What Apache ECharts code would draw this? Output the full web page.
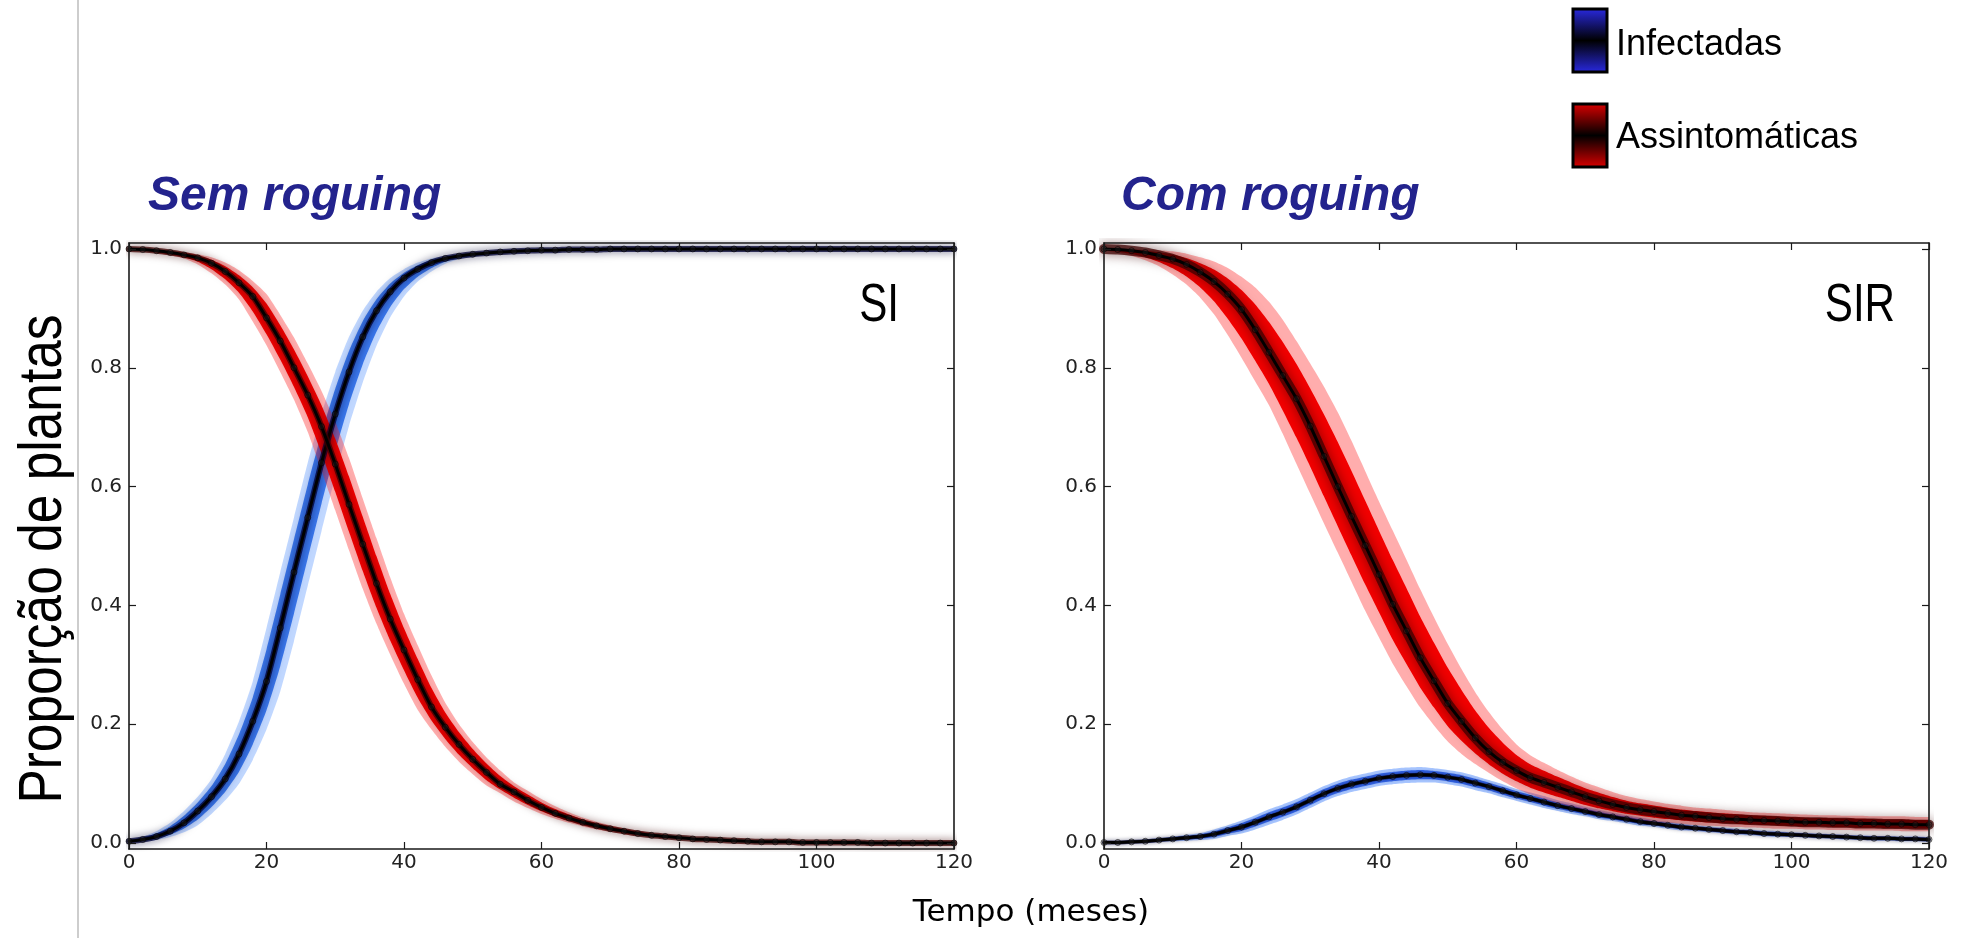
<!DOCTYPE html>
<html>
<head>
<meta charset="utf-8">
<script src="https://cdn.jsdelivr.net/npm/echarts@6/dist/echarts.min.js"></script>
<style>
  html, body { margin: 0; padding: 0; background: #fff; }
  #chart { width: 1970px; height: 938px; }
</style>
</head>
<body>
<div id="chart"></div>
<script>
// tempo (meses), um ponto a cada 2 meses
var months = [0, 2, 4, 6, 8, 10, 12, 14, 16, 18,
  20, 22, 24, 26, 28, 30, 32, 34, 36, 38,
  40, 42, 44, 46, 48, 50, 52, 54, 56, 58,
  60, 62, 64, 66, 68, 70, 72, 74, 76, 78,
  80, 82, 84, 86, 88, 90, 92, 94, 96, 98,
  100, 102, 104, 106, 108, 110, 112, 114, 116, 118, 120];

var xTicks = [0, 20, 40, 60, 80, 100, 120];
var yTicks = [0, 0.2, 0.4, 0.6, 0.8, 1.0];

// SI (sem roguing) - infectadas
var siInf = [0.003, 0.006, 0.011, 0.020, 0.034, 0.054, 0.078, 0.108, 0.150, 0.205,
  0.272, 0.362, 0.456, 0.548, 0.640, 0.722, 0.793, 0.852, 0.896, 0.928,
  0.951, 0.966, 0.977, 0.984, 0.988, 0.991, 0.993, 0.995, 0.996, 0.997,
  0.998, 0.998, 0.999, 0.999, 0.999, 1, 1, 1, 1, 1,
  1, 1, 1, 1, 1, 1, 1, 1, 1, 1,
  1, 1, 1, 1, 1, 1, 1, 1, 1, 1, 1];
var siInfHigh = [0.006, 0.011, 0.020, 0.034, 0.054, 0.078, 0.108, 0.150, 0.205, 0.272,
  0.362, 0.456, 0.548, 0.640, 0.722, 0.793, 0.852, 0.896, 0.928, 0.951,
  0.966, 0.977, 0.984, 0.988, 0.991, 0.993, 0.995, 0.996, 0.997, 0.998,
  0.998, 0.999, 0.999, 0.999, 1, 1, 1, 1, 1, 1,
  1, 1, 1, 1, 1, 1, 1, 1, 1, 1,
  1, 1, 1, 1, 1, 1, 1, 1, 1, 1, 1];
var siInfLow = [0.001, 0.002, 0.005, 0.010, 0.018, 0.030, 0.049, 0.072, 0.100, 0.140,
  0.191, 0.255, 0.340, 0.433, 0.525, 0.617, 0.702, 0.775, 0.837, 0.885,
  0.920, 0.945, 0.962, 0.975, 0.983, 0.987, 0.990, 0.992, 0.994, 0.995,
  0.996, 0.997, 0.998, 0.998, 0.999, 0.999, 1, 1, 1, 1,
  1, 1, 1, 1, 1, 1, 1, 1, 1, 1,
  1, 1, 1, 1, 1, 1, 1, 1, 1, 1, 1];

// SI (sem roguing) - assintomaticas
var siAsym = [1.000, 0.999, 0.997, 0.994, 0.990, 0.985, 0.976, 0.962, 0.943, 0.920,
  0.884, 0.845, 0.800, 0.754, 0.701, 0.638, 0.570, 0.503, 0.437, 0.377,
  0.325, 0.275, 0.229, 0.195, 0.166, 0.141, 0.119, 0.099, 0.086, 0.072,
  0.060, 0.050, 0.042, 0.035, 0.029, 0.024, 0.020, 0.016, 0.013, 0.011,
  0.009, 0.007, 0.006, 0.005, 0.004, 0.003, 0.002, 0.002, 0.002, 0.001,
  0.001, 0.001, 0.001, 0.001, 0, 0, 0, 0, 0, 0, 0];
var siAsymHigh = [1.000, 1.000, 0.999, 0.997, 0.995, 0.991, 0.986, 0.977, 0.964, 0.946,
  0.924, 0.889, 0.851, 0.807, 0.761, 0.709, 0.648, 0.580, 0.513, 0.447,
  0.386, 0.333, 0.282, 0.236, 0.200, 0.170, 0.144, 0.122, 0.102, 0.088,
  0.074, 0.062, 0.052, 0.043, 0.036, 0.030, 0.025, 0.021, 0.017, 0.014,
  0.011, 0.009, 0.007, 0.006, 0.005, 0.004, 0.003, 0.003, 0.002, 0.002,
  0.001, 0.001, 0.001, 0.001, 0.001, 0, 0, 0, 0, 0, 0];
var siAsymLow = [0.999, 0.997, 0.993, 0.989, 0.984, 0.974, 0.959, 0.940, 0.915, 0.878,
  0.838, 0.793, 0.746, 0.692, 0.627, 0.560, 0.493, 0.428, 0.369, 0.317,
  0.268, 0.224, 0.191, 0.162, 0.137, 0.116, 0.097, 0.084, 0.070, 0.059,
  0.049, 0.041, 0.034, 0.028, 0.023, 0.019, 0.015, 0.012, 0.010, 0.008,
  0.007, 0.006, 0.005, 0.004, 0.003, 0.002, 0.002, 0.001, 0.001, 0.001,
  0, 0, 0, 0, 0, 0, 0, 0, 0, 0, 0];

// SIR (com roguing) - infectadas
var sirInf = [0.001, 0.001, 0.002, 0.003, 0.005, 0.007, 0.009, 0.011, 0.015, 0.021,
  0.027, 0.035, 0.044, 0.052, 0.061, 0.072, 0.083, 0.092, 0.099, 0.104,
  0.109, 0.112, 0.114, 0.115, 0.114, 0.111, 0.107, 0.101, 0.095, 0.088,
  0.081, 0.075, 0.069, 0.063, 0.058, 0.053, 0.048, 0.044, 0.040, 0.036,
  0.033, 0.030, 0.027, 0.025, 0.023, 0.021, 0.019, 0.018, 0.016, 0.015,
  0.014, 0.013, 0.012, 0.011, 0.010, 0.009, 0.008, 0.008, 0.007, 0.007, 0.006];
var sirInfSpread = [0.002, 0.002, 0.002, 0.003, 0.003, 0.004, 0.005, 0.006, 0.008, 0.009,
  0.011, 0.012, 0.013, 0.013, 0.013, 0.013, 0.013, 0.013, 0.013, 0.013,
  0.013, 0.013, 0.013, 0.013, 0.012, 0.012, 0.012, 0.012, 0.011, 0.011,
  0.010, 0.010, 0.010, 0.009, 0.009, 0.008, 0.008, 0.007, 0.007, 0.007,
  0.006, 0.006, 0.006, 0.005, 0.005, 0.005, 0.005, 0.005, 0.005, 0.005,
  0.004, 0.004, 0.004, 0.004, 0.004, 0.004, 0.004, 0.004, 0.004, 0.004, 0.004];

// SIR (com roguing) - assintomaticas
var sirAsym = [1.000, 0.999, 0.997, 0.994, 0.989, 0.983, 0.974, 0.961, 0.945, 0.924,
  0.898, 0.864, 0.826, 0.787, 0.748, 0.702, 0.651, 0.600, 0.550, 0.501,
  0.452, 0.402, 0.357, 0.312, 0.273, 0.235, 0.205, 0.177, 0.154, 0.136,
  0.122, 0.110, 0.102, 0.094, 0.086, 0.078, 0.071, 0.065, 0.060, 0.056,
  0.053, 0.050, 0.047, 0.045, 0.043, 0.041, 0.040, 0.039, 0.038, 0.037,
  0.036, 0.035, 0.035, 0.034, 0.034, 0.033, 0.033, 0.032, 0.032, 0.031, 0.031];
var sirAsymHigh = [1.000, 1.000, 1.000, 0.999, 0.998, 0.996, 0.992, 0.986, 0.979, 0.968,
  0.953, 0.935, 0.911, 0.881, 0.845, 0.807, 0.768, 0.725, 0.677, 0.626,
  0.575, 0.526, 0.477, 0.427, 0.380, 0.335, 0.293, 0.254, 0.220, 0.191,
  0.166, 0.148, 0.135, 0.123, 0.112, 0.102, 0.094, 0.086, 0.079, 0.074,
  0.070, 0.066, 0.063, 0.060, 0.058, 0.056, 0.054, 0.052, 0.051, 0.050,
  0.049, 0.048, 0.047, 0.047, 0.046, 0.046, 0.045, 0.045, 0.045, 0.044, 0.044];
var sirAsymLow = [0.998, 0.993, 0.988, 0.981, 0.971, 0.957, 0.940, 0.918, 0.890, 0.855,
  0.817, 0.777, 0.737, 0.689, 0.638, 0.588, 0.538, 0.489, 0.440, 0.391,
  0.346, 0.302, 0.264, 0.228, 0.198, 0.171, 0.150, 0.133, 0.118, 0.104,
  0.092, 0.082, 0.074, 0.067, 0.061, 0.055, 0.050, 0.046, 0.042, 0.039,
  0.036, 0.034, 0.032, 0.030, 0.029, 0.028, 0.027, 0.026, 0.025, 0.024,
  0.024, 0.023, 0.023, 0.022, 0.022, 0.021, 0.021, 0.021, 0.020, 0.020, 0.020];

var AX = '#1a1a1a';

// faixa preenchida entre lo e hi (duas series empilhadas no eixo de categorias)
function band(ax, lo, hi, color, name) {
  return [
    {
      type: 'line', xAxisIndex: ax, yAxisIndex: ax, stack: name, stackStrategy: 'all',
      data: lo, symbol: 'none', silent: true, smooth: 0.2,
      lineStyle: { opacity: 0 }
    },
    {
      type: 'line', xAxisIndex: ax, yAxisIndex: ax, stack: name, stackStrategy: 'all',
      data: hi.map(function (v, i) { return Math.max(0, v - lo[i]); }),
      symbol: 'none', silent: true, smooth: 0.2,
      lineStyle: { opacity: 0 },
      areaStyle: { color: color, opacity: 1 }
    }
  ];
}

function toward(c, edge, k) {
  return c.map(function (v, i) { return v + k * (edge[i] - v); });
}

function curve(ax, c, lo, hi, pal, name) {
  var s = [];
  s = s.concat(band(ax, lo, hi, pal.outer, name + 'o'));
  s = s.concat(band(ax, toward(c, lo, 0.6), toward(c, hi, 0.6), pal.inner, name + 'i'));
  s.push({
    type: 'line', xAxisIndex: ax, yAxisIndex: ax, data: c,
    symbol: 'none', silent: true, smooth: 0.2,
    lineStyle: { color: pal.dark, width: pal.darkWidth, cap: 'round', join: 'round',
      shadowBlur: pal.blur, shadowColor: pal.dark }
  });
  s.push({
    type: 'line', xAxisIndex: ax, yAxisIndex: ax, data: c, smooth: 0.2,
    symbol: 'circle', symbolSize: 6, showSymbol: true, silent: true,
    itemStyle: { color: 'rgba(40,40,40,0.3)', borderColor: 'rgba(0,0,0,0.55)', borderWidth: 1 },
    lineStyle: { color: '#000', width: 3, cap: 'round', join: 'round' }
  });
  return s;
}

var red = { outer: 'rgba(255,40,40,0.38)', inner: '#f30000', dark: 'rgba(60,0,0,0.75)', darkWidth: 6, blur: 8 };
var redWide = { outer: 'rgba(255,40,40,0.38)', inner: '#f30000', dark: 'rgba(60,0,0,0.75)', darkWidth: 10, blur: 12 };
var blue = { outer: 'rgba(90,150,255,0.38)', inner: '#3a78ee', dark: 'rgba(0,0,50,0.75)', darkWidth: 6, blur: 8 };
var blueThin = { outer: 'rgba(80,140,255,0.5)', inner: '#3468ee', dark: 'rgba(0,0,50,0.7)', darkWidth: 4, blur: 4 };

function showTick(i, v) { return xTicks.indexOf(Number(v)) >= 0; }

function xAx(g, pos) {
  return {
    gridIndex: g, type: 'category', position: pos, data: months, boundaryGap: false, z: 10,
    axisLine: { show: true, onZero: false, lineStyle: { color: AX, width: 1.6 } },
    axisTick: { show: true, inside: true, length: 7, interval: showTick, lineStyle: { color: AX, width: 1.2 } },
    axisLabel: { show: pos === 'bottom', interval: showTick, fontFamily: 'DejaVu Sans', fontSize: 20, color: '#222', margin: 4 },
    splitLine: { show: false }
  };
}

function yAx(g, pos) {
  return {
    gridIndex: g, type: 'value', position: pos, min: -0.01, max: 1.01, z: 10,
    axisLine: { show: true, onZero: false, lineStyle: { color: AX, width: 1.6 } },
    axisTick: { show: true, inside: true, length: 7, customValues: yTicks, lineStyle: { color: AX, width: 1.2 } },
    axisLabel: {
      show: pos === 'left', customValues: yTicks,
      formatter: function (v) { return v.toFixed(1); },
      fontFamily: 'DejaVu Sans', fontSize: 20, color: '#222', margin: 7
    },
    splitLine: { show: false }
  };
}

var sirInfLow = sirInf.map(function (v, i) { return v - sirInfSpread[i]; });
var sirInfHigh = sirInf.map(function (v, i) { return v + sirInfSpread[i]; });

var series = []
  .concat(curve(0, siInf, siInfLow, siInfHigh, blue, 'siI'))
  .concat(curve(0, siAsym, siAsymLow, siAsymHigh, red, 'siA'))
  .concat(curve(2, sirInf, sirInfLow, sirInfHigh, blueThin, 'sirI'))
  .concat(curve(2, sirAsym, sirAsymLow, sirAsymHigh, redWide, 'sirA'));

function legendBox(y, col) {
  return {
    type: 'rect', z: 100, shape: { x: 1573, y: y, width: 34, height: 63 },
    style: {
      fill: new echarts.graphic.LinearGradient(0, 0, 0, 1, [
        { offset: 0, color: col }, { offset: 0.5, color: '#000' }, { offset: 1, color: col }
      ]),
      stroke: '#000', lineWidth: 3
    }
  };
}

// texto solto; sx comprime a largura (fonte estreita)
function label(x, y, text, font, color, align, rot, sx) {
  return {
    type: 'text', x: x, y: y, z: 100, rotation: rot || 0, scaleX: sx || 1,
    style: {
      text: text, font: font, fill: color,
      align: align, verticalAlign: 'middle',
      textAlign: align, textVerticalAlign: 'middle'
    }
  };
}

var option = {
  animation: false,
  backgroundColor: '#fff',
  grid: [
    { left: 129, top: 243, width: 825, height: 606 },
    { left: 1104, top: 243, width: 825, height: 606 }
  ],
  xAxis: [xAx(0, 'bottom'), xAx(0, 'top'), xAx(1, 'bottom'), xAx(1, 'top')],
  yAxis: [yAx(0, 'left'), yAx(0, 'right'), yAx(1, 'left'), yAx(1, 'right')],
  series: series,
  graphic: [
    { type: 'line', shape: { x1: 78, y1: 0, x2: 78, y2: 938 }, style: { stroke: '#bdbdbd', lineWidth: 1.5 } },
    label(148, 197, 'Sem roguing', 'italic bold 48px "Liberation Sans"', '#23238d', 'left'),
    label(1121, 197, 'Com roguing', 'italic bold 48px "Liberation Sans"', '#23238d', 'left'),
    label(899, 306, 'SI', '54px "Liberation Sans"', '#000', 'right', 0, 0.78),
    label(1895, 306, 'SIR', '54px "Liberation Sans"', '#000', 'right', 0, 0.78),
    legendBox(9, '#2a2ae6'),
    legendBox(104, '#e00000'),
    label(1616, 45, 'Infectadas', '36px "Liberation Sans"', '#000', 'left'),
    label(1616, 138, 'Assintomáticas', '36px "Liberation Sans"', '#000', 'left'),
    label(44, 559, 'Proporção de plantas', '62px "Liberation Sans"', '#000', 'center', Math.PI / 2, 0.83),
    label(1031, 913, 'Tempo (meses)', '31px "DejaVu Sans"', '#000', 'center')
  ]
};

var chart = echarts.init(document.getElementById('chart'), null, { renderer: 'canvas' });
chart.setOption(option);
</script>
</body>
</html>
